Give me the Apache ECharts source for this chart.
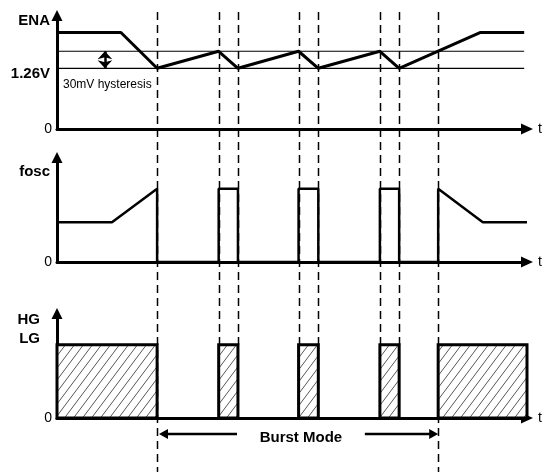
<!DOCTYPE html>
<html>
<head>
<meta charset="utf-8">
<script src="https://cdn.jsdelivr.net/npm/echarts@6/dist/echarts.min.js"></script>
<style>
  html, body { margin: 0; padding: 0; background: #fff; }
  #main { width: 555px; height: 472px; }
</style>
</head>
<body>
<div id="main"></div>
<script>
// time runs 0..100 on all three panels, levels 0..100 on each panel
var edges = [21.3, 34.4, 38.5, 51.4, 55.6, 68.7, 72.8, 81.1];
var enaT = [0, 13.6, 21.3, 34.4, 38.5, 51.4, 55.6, 68.7, 72.8, 90.0, 99.4];
var enaV = [85, 85, 53.5, 68.5, 53.5, 68.5, 53.5, 68.5, 53.5, 85, 85];
var hystHigh = 68.5;
var hystLow = 53.5;
var foscT = [0, 11.7, 21.3, 21.3, 34.4, 34.4, 38.5, 38.5, 51.4, 51.4, 55.6, 55.6, 68.7, 68.7, 72.8, 72.8, 81.1, 81.1, 90.6, 100];
var foscV = [38, 38, 70, 0, 0, 70, 70, 0, 0, 70, 70, 0, 0, 70, 70, 0, 0, 70, 38, 38];
var gateStart = [0, 34.4, 51.4, 68.7, 81.1];
var gateEnd = [21.3, 38.5, 55.6, 72.8, 100];
var gateLevel = 70;
var burstArrows = [[21.7, 38.3], [65.5, 81.1]];

var FONT = 'Liberation Sans, Arial, sans-serif';

// hatch fill for the gate pulses
var hatch = document.createElement('canvas');
hatch.width = 9; hatch.height = 12;
var hg = hatch.getContext('2d');
hg.fillStyle = '#fff';
hg.fillRect(0, 0, 9, 12);
hg.strokeStyle = '#444';
hg.lineWidth = 0.9;
hg.beginPath();
hg.moveTo(0, 12); hg.lineTo(9, 0);
hg.moveTo(-9, 12); hg.lineTo(0, 0);
hg.moveTo(9, 12); hg.lineTo(18, 0);
hg.stroke();

function zip(a, b) { return a.map(function (v, i) { return [v, b[i]]; }); }

function xAxisDef(idx) {
  return {
    gridIndex: idx, type: 'value', min: 0, max: 100,
    axisLine: { show: true, symbol: ['none', 'triangle'], symbolSize: [11, 12],
      lineStyle: { color: '#000', width: 3 } },
    axisTick: { show: false }, axisLabel: { show: false }, splitLine: { show: false },
    name: 't', nameLocation: 'end', nameGap: 11,
    nameTextStyle: { color: '#000', fontSize: 14, fontFamily: FONT, verticalAlign: 'middle' }
  };
}
function yAxisDef(idx) {
  return {
    gridIndex: idx, type: 'value', min: 0, max: 100,
    axisLine: { show: true, onZero: false, symbol: ['none', 'triangle'], symbolSize: [11, 11],
      lineStyle: { color: '#000', width: 3 } },
    axisTick: { show: false }, axisLabel: { show: false }, splitLine: { show: false }
  };
}

var chart = echarts.init(document.getElementById('main'), null, { renderer: 'canvas' });
chart.setOption({
  animation: false,
  backgroundColor: '#fff',
  grid: [
    { left: 57, top: 15.5, width: 470, height: 113.5 },
    { left: 57, top: 157.5, width: 470, height: 104.5 },
    { left: 57, top: 313.5, width: 470, height: 104.5 }
  ],
  xAxis: [xAxisDef(0), xAxisDef(1), xAxisDef(2)],
  yAxis: [yAxisDef(0), yAxisDef(1), yAxisDef(2)],
  series: [
    {
      type: 'line', xAxisIndex: 0, yAxisIndex: 0, clip: false, symbol: 'none', z: 5,
      data: zip(enaT, enaV),
      lineStyle: { color: '#000', width: 3 }
    },
    {
      type: 'line', xAxisIndex: 0, yAxisIndex: 0, clip: false, symbol: 'none',
      data: [[0, hystHigh], [enaT[enaT.length - 1], hystHigh]],
      lineStyle: { color: '#000', width: 1.2 },
      markLine: {
        silent: true, symbol: ['arrow', 'arrow'], symbolSize: [11, 8],
        label: { show: false },
        lineStyle: { type: 'solid', color: '#000', width: 2.5 },
        data: [[{ coord: [10.2, hystLow] }, { coord: [10.2, hystHigh] }]]
      }
    },
    {
      type: 'line', xAxisIndex: 0, yAxisIndex: 0, clip: false, symbol: 'none',
      data: [[0, hystLow], [enaT[enaT.length - 1], hystLow]],
      lineStyle: { color: '#000', width: 1.2 }
    },
    {
      type: 'line', xAxisIndex: 1, yAxisIndex: 1, clip: false, symbol: 'none',
      data: zip(foscT, foscV),
      lineStyle: { color: '#000', width: 2.5 }
    },
    {
      type: 'custom', xAxisIndex: 2, yAxisIndex: 2,
      data: zip(gateStart, gateEnd),
      renderItem: function (params, api) {
        var p0 = api.coord([api.value(0), gateLevel]);
        var p1 = api.coord([api.value(1), 0]);
        return {
          type: 'rect',
          shape: { x: p0[0], y: p0[1], width: p1[0] - p0[0], height: p1[1] - p0[1] },
          style: { fill: { image: hatch, repeat: 'repeat' }, stroke: '#000', lineWidth: 3 }
        };
      }
    }
  ]
});

// annotations placed from the axes' own pixel mapping
function px(grid, t, v) { return chart.convertToPixel({ gridIndex: grid }, [t, v]); }
var g = [];
var topY = 12;
var gateTop = px(2, 0, gateLevel)[1];
edges.forEach(function (t, i) {
  var x = Math.round(px(0, t, 0)[0]) + 0.5;
  var outer = (i === 0 || i === edges.length - 1);
  g.push({
    type: 'line', z: 1,
    shape: { x1: x, y1: topY, x2: x, y2: outer ? 472 : gateTop },
    style: { stroke: '#000', lineWidth: 1.5, lineDash: [8, 5] }
  });
});

function label(text, x, y, size, bold, align) {
  g.push({
    type: 'text', z: 10,
    x: x, y: y,
    style: { text: text, fill: '#000', font: (bold ? 'bold ' : '') + size + 'px ' + FONT,
      textAlign: align || 'right', textVerticalAlign: 'middle' }
  });
}
var ax0 = px(0, 0, 0), ax1 = px(1, 0, 0), ax2 = px(2, 0, 0);
label('ENA', 50, 21, 15, true);
label('1.26V', 50, px(0, 0, hystLow)[1] + 6, 15, true);
label('30mV hysteresis', 63, px(0, 0, hystLow)[1] + 16, 12, false, 'left');
label('0', 52, ax0[1], 14, false);
label('fosc', 50, 172, 15, true);
label('0', 52, ax1[1], 14, false);
label('HG', 40, 320, 15, true);
label('LG', 40, 339, 15, true);
label('0', 52, ax2[1], 14, false);

// Burst Mode arrows under the gate panel
var by = ax2[1] + 16;
var lx0 = px(2, burstArrows[0][0], 0)[0], lx1 = px(2, burstArrows[0][1], 0)[0];
var rx0 = px(2, burstArrows[1][0], 0)[0], rx1 = px(2, burstArrows[1][1], 0)[0];
g.push({ type: 'line', shape: { x1: lx0 + 6, y1: by, x2: lx1, y2: by }, style: { stroke: '#000', lineWidth: 2.5 } });
g.push({ type: 'polygon', shape: { points: [[lx0, by], [lx0 + 9, by - 5], [lx0 + 9, by + 5]] }, style: { fill: '#000' } });
g.push({ type: 'line', shape: { x1: rx0, y1: by, x2: rx1 - 6, y2: by }, style: { stroke: '#000', lineWidth: 2.5 } });
g.push({ type: 'polygon', shape: { points: [[rx1, by], [rx1 - 9, by - 5], [rx1 - 9, by + 5]] }, style: { fill: '#000' } });
label('Burst Mode', (lx1 + rx0) / 2, by + 4, 15, true, 'center');

chart.setOption({ graphic: g });
</script>
</body>
</html>
